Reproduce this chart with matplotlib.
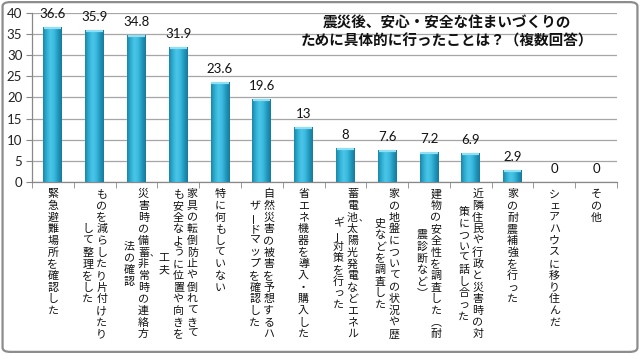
import matplotlib
matplotlib.use("Agg")
import matplotlib.pyplot as plt
import numpy as np
from matplotlib.colors import LinearSegmentedColormap
from matplotlib.patches import FancyBboxPatch

# ---- data ----
categories = [
    "緊急避難場所を確認した",
    "ものを減らしたり片付けたり\nして整理をした",
    "災害時の備蓄、非常時の連絡方\n法の確認",
    "家具の転倒防止や倒れてきて\nも安全なように位置や向きを\n工夫",
    "特に何もしていない",
    "自然災害の被害を予想するハ\nザードマップを確認した",
    "省エネ機器を導入・購入した",
    "蓄電池、太陽光発電などエネル\nギー対策を行った",
    "家の地盤についての状況や歴\n史などを調査した",
    "建物の安全性を調査した（耐\n震診断など）",
    "近隣住民や行政と災害時の対\n策について話し合った",
    "家の耐震補強を行った",
    "シェアハウスに移り住んだ",
    "その他",
]
values = [36.6, 35.9, 34.8, 31.9, 23.6, 19.6, 13, 8, 7.6, 7.2, 6.9, 2.9, 0, 0]
value_labels = ["36.6", "35.9", "34.8", "31.9", "23.6", "19.6", "13", "8", "7.6", "7.2", "6.9", "2.9", "0", "0"]
y_ticks = [0, 5, 10, 15, 20, 25, 30, 35, 40]
title = "震災後、安心・安全な住まいづくりの\nために具体的に行ったことは？（複数回答）"

JP = ["Noto Sans CJK JP", "DejaVu Sans"]
NUM = ["Lato", "DejaVu Sans"]

fig = plt.figure(figsize=(6.4, 3.54), dpi=100)
ax = fig.add_axes([32 / 640, 1 - 182 / 354, (617 - 32) / 640, (182 - 13) / 354])

x = np.arange(len(values))
bars = ax.bar(x, values, width=0.45, color="#2aa8cc", zorder=2)

cmap = LinearSegmentedColormap.from_list(
    "cyl", ["#1b86a8", "#2fb0d4", "#4cc6e8", "#3ab9de", "#2198bc", "#17789a"])
grad = np.linspace(0, 1, 64).reshape(1, -1)
for b in bars:
    h = b.get_height()
    if h <= 0:
        continue
    x0 = b.get_x()
    w = b.get_width()
    im = ax.imshow(grad, cmap=cmap, aspect="auto", extent=[x0, x0 + w, 0, h],
                   zorder=3, interpolation="bicubic")
    im.set_clip_path(b)
    ax.plot([x0 + 0.02, x0 + w - 0.02], [h - 0.25, h - 0.25], color="#8fe0f5",
            lw=1.6, zorder=4, solid_capstyle="butt")

for xi, v, lab in zip(x, values, value_labels):
    ax.annotate(lab, xy=(xi, v), xytext=(0, 5), textcoords="offset points",
                ha="center", va="bottom", fontsize=9.5, family=NUM, color="#111111")

ax.set_xlim(-0.5, len(values) - 0.5)
ax.set_ylim(0, 40)
ax.set_yticks(y_ticks)
ax.set_yticklabels([str(t) for t in y_ticks], family=NUM, fontsize=9.5, color="#222222")
ax.tick_params(axis="y", length=4, color="#888888", pad=3)
ax.set_xticks(x)
ax.set_xticklabels([])
ax.tick_params(axis="x", which="major", length=0)
ax.set_xticks(np.arange(-0.5, len(values)), minor=True)
ax.tick_params(axis="x", which="minor", length=4, color="#888888")
ax.grid(axis="y", color="#a6a6a6", lw=0.9, zorder=0)
ax.set_axisbelow(True)
for s in ["top", "right"]:
    ax.spines[s].set_visible(False)
for s in ["left", "bottom"]:
    ax.spines[s].set_color("#888888")
    ax.spines[s].set_linewidth(0.9)

# ---- vertical (tategaki) category labels ----
fs = 7.9
pitch = 8.4      # points between characters
colsp = 10.0     # points between columns
top = 8.8        # points below axis for first char center
for xi, lab in zip(x, categories):
    lines = lab.split("\n")
    lens = [len(l.replace("、", "")) for l in lines]
    L = max(lens)
    n_cols = len(lines)
    for j, line in enumerate(lines):
        dx = ((n_cols - 1) / 2 - j) * colsp
        n = lens[j]
        k = 0
        for ch in line:
            if ch == "、":
                yk = -(top + ((L - n) / 2 + k - 1) * pitch)
                ax.annotate("、", xy=(xi, 0), xycoords=("data", "axes fraction"),
                            xytext=(dx + fs / 2 + 0.2, yk - 0.5), textcoords="offset points",
                            ha="left", va="center", fontsize=6.5, family=JP,
                            color="#111111", annotation_clip=False)
                continue
            yk = -(top + ((L - n) / 2 + k) * pitch)
            rot = 0
            c = ch
            if ch in "ー":
                rot = 90
            elif ch == "（":
                c = "\ufe35"
            elif ch == "）":
                c = "\ufe36"
            ax.annotate(c, xy=(xi, 0), xycoords=("data", "axes fraction"),
                        xytext=(dx, yk), textcoords="offset points",
                        ha="center", va="center", fontsize=fs, family=JP,
                        rotation=rot, color="#111111", annotation_clip=False)
            k += 1

fig.text(447 / 640, 1 - 31.5 / 354, title, ha="center", va="center",
         fontsize=10.5, fontweight="bold", family=JP, linespacing=1.15,
         color="#111111")

border = FancyBboxPatch((0.004, 0.006), 0.992, 0.988, transform=fig.transFigure,
                        boxstyle="round,pad=0,rounding_size=0.012",
                        fill=False, edgecolor="#8c8c8c", lw=1.6)
fig.patches.append(border)

fig.savefig("out.png", dpi=100)
